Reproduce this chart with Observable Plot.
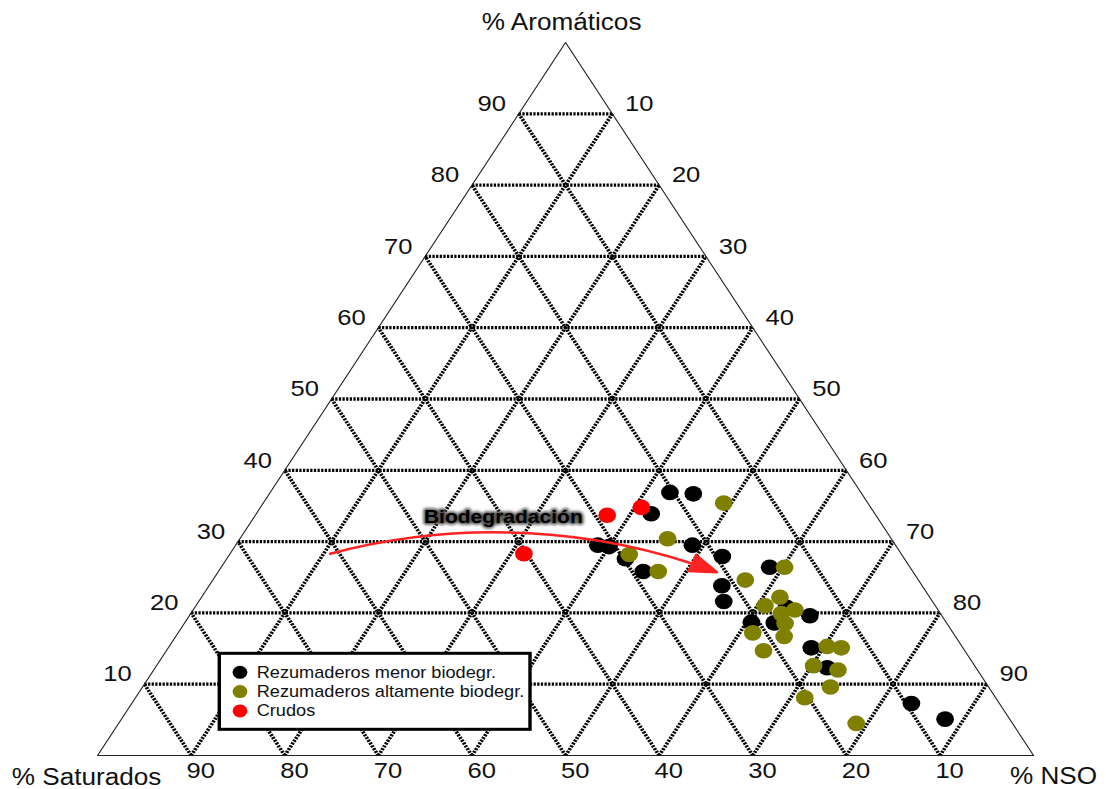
<!DOCTYPE html>
<html>
<head>
<meta charset="utf-8">
<script src="https://cdn.jsdelivr.net/npm/d3@7"></script>
<script src="https://cdn.jsdelivr.net/npm/@observablehq/plot@0.6"></script>
<style>
  html, body { margin: 0; padding: 0; background: #fff; }
  #chart svg { display: block; }
</style>
</head>
<body>
<div id="chart"></div>
<script>
// Composition of each sample as [% Saturados, % Aromáticos, % NSO]
const rezumMenor = [
  [20.4, 36.9, 42.7], [18.0, 36.7, 45.3], [23.9, 33.9, 42.2], [31.8, 29.5, 38.7],
  [30.7, 29.3, 40.0], [29.8, 27.6, 42.6], [28.8, 25.8, 45.4], [21.7, 29.5, 48.8],
  [19.3, 27.9, 52.8], [15.0, 26.4, 58.6], [21.4, 23.8, 54.8], [22.3, 21.6, 56.1],
  [16.0, 20.8, 63.2], [14.1, 19.6, 66.3], [20.8, 18.7, 60.5], [18.4, 18.6, 63.0],
  [16.2, 15.1, 68.7], [15.9, 12.3, 71.8], [9.4, 7.3, 83.3], [6.9, 5.1, 88.0]
];
const rezumAlta = [
  [15.4, 35.4, 49.2], [23.9, 30.4, 45.7], [29.1, 28.2, 42.7], [27.2, 25.8, 47.0],
  [18.5, 24.6, 56.9], [13.4, 26.4, 60.2], [16.0, 22.2, 61.8], [18.2, 21.0, 60.8],
  [15.3, 20.4, 64.3], [17.0, 19.9, 63.1], [17.3, 18.5, 64.2], [18.3, 16.7, 65.0],
  [21.4, 17.2, 61.4], [21.5, 14.7, 63.8], [14.4, 15.3, 70.3], [13.0, 15.1, 71.9],
  [17.2, 12.6, 70.2], [14.9, 12.0, 73.1], [16.9, 9.6, 73.5], [20.4, 8.1, 71.5],
  [16.7, 4.5, 78.8]
];
const crudos = [
  [40.3, 28.3, 31.4], [28.7, 33.7, 37.6], [24.5, 34.8, 40.7]
];

const seriesNames = ["Rezumaderos menor biodegr.", "Rezumaderos altamente biodegr.", "Crudos"];
const seriesColors = ["#000000", "#7f7f00", "#ff0000"];

// Grid levels and tick labels (percent)
const gridLevels = [10, 20, 30, 40, 50, 60, 70, 80, 90];

// Biodegradation trend: start and end compositions of the arrow
const arrowFrom = [61.0, 28.3, 10.7];
const arrowTo = [21.0, 25.7, 53.3];
const arrowLabel = "Biodegradación";
const arrowLabelAt = [39.9, 33.5, 26.6];

const axisTitles = ["% Saturados", "% Aromáticos", "% NSO"];

// Ternary -> cartesian (aromatics at the apex, saturates bottom-left, NSO bottom-right)
const tx = ([s, a, n]) => n + a / 2;
const ty = ([s, a, n]) => a;

const W = 1106, H = 789;
const stretch = 1.1367;           // horizontal stretch of the drawing
const w0 = Math.round(W / stretch);

const gridSegments = gridLevels.flatMap(k => [
  {from: [100 - k, k, 0], to: [0, k, 100 - k]},
  {from: [100 - k, 0, k], to: [0, 100 - k, k]},
  {from: [k, 0, 100 - k], to: [k, 100 - k, 0]}
]);
const outline = [[100, 0, 0], [0, 100, 0], [0, 0, 100], [100, 0, 0]];

const font = "'Liberation Sans', Arial, Helvetica, sans-serif";
const arrowColor = "#f22";

const svg = Plot.plot({
  width: w0,
  height: H,
  marginLeft: 97 / stretch,
  marginRight: w0 - 1033 / stretch,
  marginTop: 42,
  marginBottom: 34,
  x: {domain: [0, 100], axis: null},
  y: {domain: [0, 100], axis: null},
  style: {fontFamily: font, background: "#fff", color: "#000"},
  marks: [
    Plot.link(gridSegments, {
      x1: d => tx(d.from), y1: d => ty(d.from),
      x2: d => tx(d.to), y2: d => ty(d.to),
      stroke: "#000", strokeWidth: 3.3, strokeDasharray: "2,1.2"
    }),
    Plot.line(outline, {x: tx, y: ty, stroke: "#222", strokeWidth: 1}),
    // tick labels
    Plot.text(gridLevels, {x: k => k / 2, y: k => k, text: k => String(k),
      dx: -23.7, dy: -10, fontSize: 22.5, fill: "#111"}),
    Plot.text(gridLevels, {x: k => k + (100 - k) / 2, y: k => 100 - k, text: k => String(k),
      dx: 23.7, dy: -10, fontSize: 22.5, fill: "#111"}),
    Plot.text(gridLevels, {x: k => 100 - k, y: 0, text: k => String(k),
      dx: 8.5, dy: 15, fontSize: 22.5, fill: "#111"}),
    // axis titles at the vertices
    Plot.text([[100, 0, 0]], {x: tx, y: ty, text: [axisTitles[0]], dx: -9.7, dy: 22, fontSize: 23, fill: "#111"}),
    Plot.text([[0, 100, 0]], {x: tx, y: ty, text: [axisTitles[1]], dx: -3.5, dy: -20, fontSize: 23, fill: "#111"}),
    Plot.text([[0, 0, 100]], {x: tx, y: ty, text: [axisTitles[2]], dx: 17.6, dy: 21, fontSize: 23, fill: "#111"}),
    // samples
    Plot.dot(rezumMenor, {x: tx, y: ty, r: 7.8, fill: seriesColors[0]}),
    Plot.dot(rezumAlta, {x: tx, y: ty, r: 7.8, fill: seriesColors[1]}),
    Plot.dot(crudos, {x: tx, y: ty, r: 7.8, fill: seriesColors[2]}),
    // biodegradation trend
    Plot.arrow([{from: arrowFrom, to: arrowTo}], {
      x1: d => tx(d.from), y1: d => ty(d.from),
      x2: d => tx(d.to), y2: d => ty(d.to),
      bend: 20, stroke: arrowColor, strokeWidth: 2.5, headLength: 15, headAngle: 40
    }),
    Plot.text([arrowLabelAt], {x: tx, y: ty, text: [arrowLabel], fontSize: 18.5, fontWeight: "bold",
      fill: "#555", stroke: "#555", strokeWidth: 3.5}),
    Plot.text([arrowLabelAt], {x: tx, y: ty, text: [arrowLabel], fontSize: 18.5, fontWeight: "bold",
      fill: "#000"})
  ]
});

const root = d3.select(svg);

// solid arrowhead: fill the triangle formed by the arrow's head strokes
root.selectAll("path").each(function () {
  const el = d3.select(this);
  const d = el.attr("d") || "";
  const parentStroke = this.parentNode && this.parentNode.getAttribute("stroke");
  if ((el.attr("stroke") === arrowColor || parentStroke === arrowColor) && d.includes("A")) {
    const head = d.slice(d.lastIndexOf("M"));
    d3.select(this.parentNode).append("path").attr("d", head + "Z")
      .attr("fill", arrowColor).attr("stroke", arrowColor).attr("stroke-width", 1.5)
      .attr("stroke-linejoin", "round");
  }
});

// soft halo behind the trend label
const defs = root.append("defs");
defs.append("filter").attr("id", "halo-blur")
  .attr("x", "-20%").attr("y", "-50%").attr("width", "140%").attr("height", "200%")
  .append("feGaussianBlur").attr("stdDeviation", 1.6);
const labelTexts = root.selectAll("text").filter(function () { return this.textContent === arrowLabel; });
labelTexts.filter((d, i) => i === 0).attr("filter", "url(#halo-blur)");

// legend
const lg = root.append("g").attr("font-family", font).attr("text-anchor", "start");
const lx = 219.3 / stretch, ly = 653.3, lw = (530 - 219.3) / stretch, lh = 76;
lg.append("rect").attr("x", lx).attr("y", ly).attr("width", lw).attr("height", lh)
  .attr("fill", "#fff").attr("stroke", "#000").attr("stroke-width", 3);
seriesNames.forEach((name, i) => {
  const cy = ly + 19 + i * 19.3;
  lg.append("circle").attr("cx", lx + 18.2).attr("cy", cy).attr("r", 6.5).attr("fill", seriesColors[i]);
  lg.append("text").attr("x", lx + 32.9).attr("y", cy).attr("dy", "0.35em")
    .attr("font-size", 16).attr("fill", "#111").text(name);
});

// stretch the drawing horizontally to the full page width
svg.setAttribute("preserveAspectRatio", "none");
svg.setAttribute("width", W);
svg.setAttribute("height", H);
svg.style.width = W + "px";
svg.style.height = H + "px";
svg.style.maxWidth = "none";

document.getElementById("chart").appendChild(svg);
</script>
</body>
</html>
